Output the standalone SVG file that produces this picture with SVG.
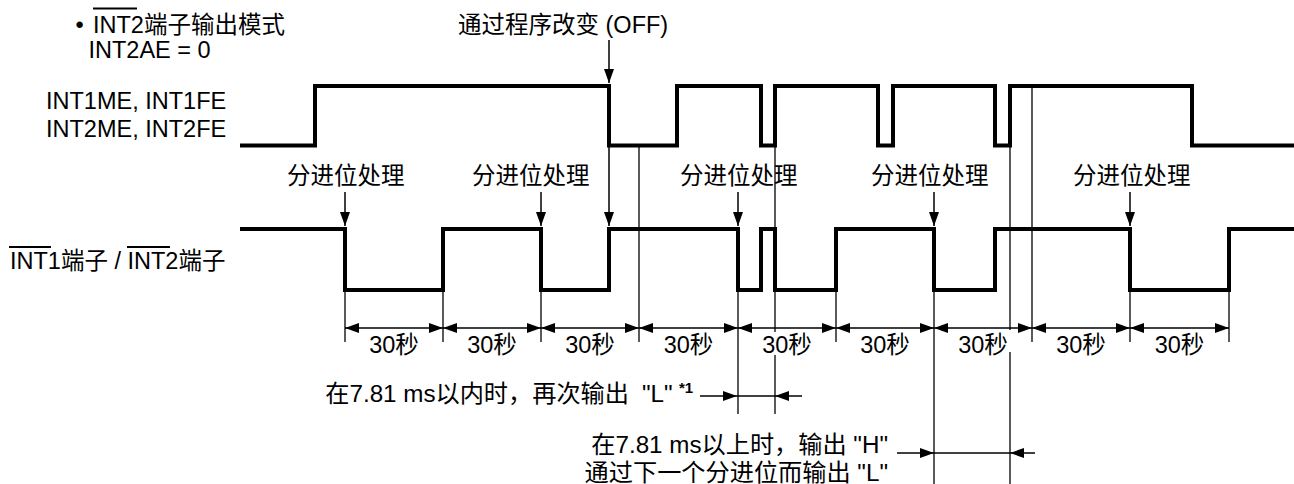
<svg xmlns="http://www.w3.org/2000/svg" width="1294" height="484" viewBox="0 0 1294 484">
<defs>
<marker id="ah" markerUnits="userSpaceOnUse" markerWidth="14" markerHeight="10" viewBox="0 0 14 10" refX="14" refY="5" orient="auto-start-reverse"><path d="M0,0 L14,5 L0,10 Z" fill="#000"/></marker>
<style>
text{font-family:"Liberation Sans",Arial,"Noto Sans CJK SC",sans-serif;font-size:23.5px;fill:#000}
.note{font-size:24.2px}
.sup{font-size:15px;font-weight:bold}
.wave{fill:none;stroke:#000;stroke-width:4;stroke-linejoin:miter}
.thin{stroke:#000;stroke-width:1.3;fill:none}
.arr{stroke:#000;stroke-width:1.5;fill:none;marker-end:url(#ah)}
.dim{stroke:#000;stroke-width:1.5;fill:none;marker-start:url(#ah);marker-end:url(#ah)}
.ovl{stroke:#000;stroke-width:2}
</style>
</defs>
<rect width="1294" height="484" fill="#fff"/>

<g id="title">
<text x="75.5" y="33">•</text>
<text x="93" y="33">INT2端子输出模式</text>
<line class="ovl" x1="93" y1="8.5" x2="137" y2="8.5"/>
<text x="88.5" y="58">INT2AE = 0</text>
</g>

<g id="label-prog">
<text x="458" y="33">通过程序改变 (OFF)</text>
</g>

<g id="signal-enable">
<text x="46" y="109">INT1ME, INT1FE</text>
<text x="46" y="137">INT2ME, INT2FE</text>
<path class="wave" d="M240,145.5 H315 V86 H609 V145.5 H677 V86 H761 V145.5 H775 V86 H878 V145.5 H893 V86 H995 V145.5 H1010 V86 H1192 V145.5 H1294"/>
</g>

<g id="signal-int">
<text x="10" y="269">INT1端子 / INT2端子</text>
<line class="ovl" x1="9" y1="247" x2="51" y2="247"/>
<line class="ovl" x1="127" y1="247" x2="170" y2="247"/>
<path class="wave" d="M240,229 H345 V290 H443 V229 H541 V290 H609 V229 H738 V290 H761 V229 H775 V290 H836 V229 H934 V290 H995 V229 H1130 V290 H1229 V229 H1294"/>
</g>

<g id="carry-labels">
<text x="287" y="184">分进位处理</text>
<text x="472" y="184">分进位处理</text>
<text x="680" y="184">分进位处理</text>
<text x="871" y="184">分进位处理</text>
<text x="1073" y="184">分进位处理</text>
</g>

<g id="dim-labels">
<text x="394" y="353" text-anchor="middle">30秒</text>
<text x="492" y="353" text-anchor="middle">30秒</text>
<text x="590" y="353" text-anchor="middle">30秒</text>
<text x="688.5" y="353" text-anchor="middle">30秒</text>
<text x="787" y="353" text-anchor="middle">30秒</text>
<text x="885" y="353" text-anchor="middle">30秒</text>
<text x="983" y="353" text-anchor="middle">30秒</text>
<text x="1081" y="353" text-anchor="middle">30秒</text>
<text x="1179.5" y="353" text-anchor="middle">30秒</text>
</g>

<g id="note-1">
<text class="note" x="629" y="402" text-anchor="end">在7.81 ms以内时，再次输出</text>
<text class="note" x="642" y="402">"L"</text>
<text class="sup" x="679" y="393">*1</text>
</g>

<g id="note-2">
<text class="note" x="888" y="453" text-anchor="end">在7.81 ms以上时，输出 "H"</text>
<text class="note" x="888" y="481" text-anchor="end">通过下一个分进位而输出 "L"</text>
</g>

<g id="connectors">
<line class="arr" x1="609" y1="40" x2="609" y2="83"/>
<line class="arr" x1="609" y1="145" x2="609" y2="226"/>
<line class="arr" x1="345" y1="192" x2="345" y2="226"/>
<line class="arr" x1="541" y1="192" x2="541" y2="226"/>
<line class="arr" x1="738" y1="192" x2="738" y2="226"/>
<line class="arr" x1="934" y1="192" x2="934" y2="226"/>
<line class="arr" x1="1130" y1="192" x2="1130" y2="226"/>

<line class="thin" x1="639" y1="145" x2="639" y2="342"/>
<line class="thin" x1="775" y1="145" x2="775" y2="332"/>
<line class="thin" x1="775" y1="355" x2="775" y2="414"/>
<line class="thin" x1="1010" y1="145" x2="1010" y2="330"/>
<line class="thin" x1="1010" y1="352" x2="1010" y2="484"/>
<line class="thin" x1="1032" y1="86" x2="1032" y2="342"/>
<line class="thin" x1="345" y1="290" x2="345" y2="342"/>
<line class="thin" x1="443" y1="290" x2="443" y2="342"/>
<line class="thin" x1="541" y1="290" x2="541" y2="342"/>
<line class="thin" x1="836" y1="290" x2="836" y2="342"/>
<line class="thin" x1="1130" y1="290" x2="1130" y2="342"/>
<line class="thin" x1="1229" y1="290" x2="1229" y2="342"/>
<line class="thin" x1="738" y1="290" x2="738" y2="414"/>
<line class="thin" x1="934" y1="290" x2="934" y2="484"/>

<line class="dim" x1="345" y1="328" x2="443" y2="328"/>
<line class="dim" x1="443" y1="328" x2="541" y2="328"/>
<line class="dim" x1="541" y1="328" x2="639" y2="328"/>
<line class="dim" x1="639" y1="328" x2="738" y2="328"/>
<line class="dim" x1="738" y1="328" x2="836" y2="328"/>
<line class="dim" x1="836" y1="328" x2="934" y2="328"/>
<line class="dim" x1="934" y1="328" x2="1032" y2="328"/>
<line class="dim" x1="1032" y1="328" x2="1130" y2="328"/>
<line class="dim" x1="1130" y1="328" x2="1229" y2="328"/>

<line class="arr" x1="700" y1="396" x2="737" y2="396"/>
<line class="thin" x1="737" y1="396" x2="775" y2="396" stroke-width="1.5"/>
<line class="arr" x1="802" y1="396" x2="775" y2="396"/>
<line class="arr" x1="897" y1="453" x2="934" y2="453"/>
<line class="thin" x1="934" y1="453" x2="1010" y2="453" stroke-width="1.5"/>
<line class="arr" x1="1035" y1="453" x2="1010" y2="453"/>
</g>
</svg>
